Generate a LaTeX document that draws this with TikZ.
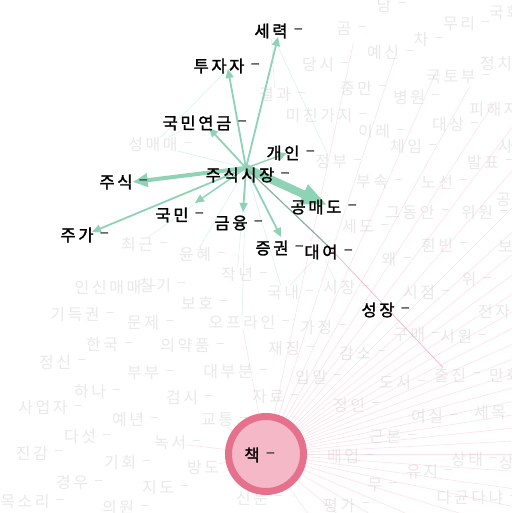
\documentclass[tikz,border=0pt]{standalone}
\usepackage{fontspec}
\newfontfamily\kr[LetterSpace=16]{Noto Sans CJK KR}
\newfontfamily\krb[FakeBold=1.6, LetterSpace=16]{Noto Sans CJK KR}
\usetikzlibrary{arrows.meta, positioning}
\definecolor{mint}{HTML}{8ED3B5}
\definecolor{rosy}{HTML}{F0A3B5}
\definecolor{bookfill}{HTML}{F4B8C6}
\definecolor{bookring}{HTML}{E6718D}
\definecolor{fadetext}{HTML}{E9E9E9}
\pgfdeclarelayer{back}
\pgfdeclarelayer{links}
\pgfsetlayers{back,links,main}

\tikzset{
  kw/.style={font=\krb\fontsize{16.5}{18}\selectfont, inner sep=0pt,
    label={[font=\krb\fontsize{16.5}{18}\selectfont, text=black!75, inner sep=0pt, label distance=6pt]right:–}},
  bgw/.style={font=\kr\fontsize{16}{18}\selectfont, text=fadetext, inner sep=0pt,
    label={[font=\kr\fontsize{16}{18}\selectfont, text=fadetext, inner sep=0pt, label distance=6pt]right:–}},
  flow/.style={draw=mint, line width=1.8pt, -{Triangle[length=9pt, width=8pt]}},
  midflow/.style={draw=mint, line width=4pt, -{Triangle[length=15pt, width=13pt]}},
  fatflow/.style={draw=mint, line width=8pt, -{Triangle[length=26pt, width=20pt]}},
  faint/.style={draw=mint, opacity=.3, line width=.6pt},
  ray/.style={draw=rosy, opacity=.3, line width=.6pt},
}

\begin{document}
\begin{tikzpicture}[x=1pt, y=-1pt]
    \useasboundingbox (0,0) rectangle (511,513);

    \begin{pgfonlayer}{back}
    \fill[white] (0,0) rectangle (511,513);
    % faded words
    \foreach \x/\y/\w in {384/5/남, 344/29/곰, 459/24/무리, 505/13/국회, 421/40/차, 383/53/예신,
        318/65/당시, 496/64/정치, 451/77/국토부, 356/88/중만, 409/97/병원, 494/110/피해자,
        319/116/미친가지, 374/132/이레, 448/125/대상, 406/147/체임, 483/162/발표, 514/147/사회,
        372/182/부속, 437/182/노선, 512/200/공사, 410/212/그동안, 477/213/위원, 358/227/세도,
        437/245/휜빈, 514/246/보도, 389/260/왜, 419/293/시점, 469/280/위, 494/312/전자,
        316/327/가정, 409/335/구매, 456/337/시원, 108/288/인신매매, 155/285/칠기, 197/303/보호,
        75/315/기득권, 143/323/문제, 102/345/한국, 185/346/의약품, 284/349/재징, 355/353/감소,
        55/362/정신, 143/373/부부, 228/372/대부분, 311/377/입말, 505/376/만화, 395/383/도서,
        90/392/하나, 268/397/자료, 182/398/검시, 349/405/정인, 43/408/사업자, 128/420/예년,
        427/417/여실, 490/413/세목, 80/437/다섯, 385/437/근본, 32/453/진감, 343/457/배업,
        467/460/상태, 515/462/상황, 120/463/기회, 422/472/유지, 72/483/경우, 158/488/지도,
        375/485/무, 25/502/목소리, 118/508/의원, 470/498/다균다냐, 339/505/평가, 252/498/신문}
      \node[bgw] at (\x,\y) {\w};

    \node[bgw] (seongmae) at (153,145) {성매매};
    \node[bgw] (gyeolgwa) at (275,95) {결과};
    \node[bgw] (jeongbu) at (331,162) {정부};
    \node[bgw] (choegeun) at (137,245) {최근};
    \node[bgw] (yunhye) at (195,255) {윤혜};
    \node[bgw] (jaknyeon) at (237,275) {작년};
    \node[bgw] (offline) at (242,323) {오프라인};
    \node[bgw] (guknae) at (283,293) {국내};
    \node[bgw] (sijang) at (339,288) {시장};
    \node[bgw] (chuljin) at (450,375) {출진};
    \node[bgw] (gyotong) at (217,420) {교통};
    \node[bgw] (bangdo) at (203,467) {방도};
    \node[bgw] (nokseo) at (170,443) {녹서};

    % book hub and its rays
    \node[circle, minimum size=75pt, inner sep=0pt] (bookdot) at (266,454) {};
    \foreach \a in {-78,-72,-66,-61,-57,-53,-49,-45,-42,-39,-36,-33,-30,-27,-24,-21,-18,-15,-12,-9,-6,-3,0,4,8,12,17,23,30,40,55}
      \draw[ray] (bookdot.center) -- ++(\a:420);
    \draw[ray] (bookdot.center) -- (gyotong);
    \draw[ray] (bookdot.center) -- (bangdo);
    \draw[ray] (bookdot.center) -- (nokseo);
    \draw[ray] (bookdot.center) -- (offline);
    \end{pgfonlayer}

    % main words
    \node[kw] (serok) at (271,31) {세력};
    \node[kw] (tujaja) at (219,66) {투자자};
    \node[kw] (yeongeum) at (197,123) {국민연금};
    \node[kw] (gaein) at (283,153) {개인};
    \node[kw] (jss) at (240,175) {주식시장};
    \node[kw] (jusik) at (116,182) {주식};
    \node[kw] (gongmae) at (316,207) {공매도};
    \node[kw] (gukmin) at (172,215) {국민};
    \node[kw] (geumyung) at (231,223) {금융};
    \node[kw] (juga) at (77,235) {주가};
    \node[kw] (jeunggwon) at (272,248) {증권};
    \node[kw] (daeyeo) at (321,252) {대여};
    \node[kw] (seongjang) at (378,310) {성장};

    \coordinate (hub) at ([shift={(6,-7)}]jss.center);

    \begin{pgfonlayer}{links}
    % weak links
    \draw[faint] (hub) -- (seongmae);
    \draw[faint] ([shift={(9,3)}]tujaja.center) -- (seongmae);
    \draw[faint] (yeongeum) -- (seongmae);
    \draw[faint] (hub) -- (choegeun);
    \draw[faint] (hub) -- (yunhye);
    \draw[faint] (hub) -- (jaknyeon);
    \draw[faint] (hub) -- (offline);
    \draw[faint] (hub) -- (guknae);
    \draw[faint] (serok) -- (gyeolgwa);
    \draw[faint] (serok) -- (jeongbu);
    \draw[faint] (daeyeo) -- (sijang);
    \draw[faint] (daeyeo) -- (guknae);
    \draw[rosy, line width=.8pt, opacity=.7] ([shift={(7,-6)}]daeyeo.center) -- (chuljin);

    % links from the market
    \draw[flow] (hub) -- ([shift={(7,6)}]serok.center);
    \draw[flow] (hub) -- ([shift={(9,3)}]tujaja.center);
    \draw[flow] (hub) -- ([shift={(12,5)}]yeongeum.center);
    \draw[flow, line width=1.4pt] (hub) -- ([shift={(4,0)}]gaein.center);
    \draw[midflow] (hub) -- (jusik.east);
    \draw[fatflow] (hub) -- ([shift={(11,-2)}]gongmae.center);
    \draw[flow, line width=1.4pt] (hub) -- ([shift={(23,-12)}]gukmin.center);
    \draw[flow] (hub) -- ([shift={(12,-11)}]geumyung.center);
    \draw[flow] (hub) -- ([shift={(15,-3)}]juga.center);
    \draw[flow] (hub) -- ([shift={(9,-11)}]jeunggwon.center);
    \draw[draw=mint!60!gray, line width=1.2pt] (hub) -- ([shift={(7,-6)}]daeyeo.center);
    \end{pgfonlayer}

    % book
    \draw[fill=bookfill, draw=bookring, line width=7pt] (bookdot.center) circle (37.5);
    \node[kw] (chaek) at (252,455) {책};
\end{tikzpicture}
\end{document}
